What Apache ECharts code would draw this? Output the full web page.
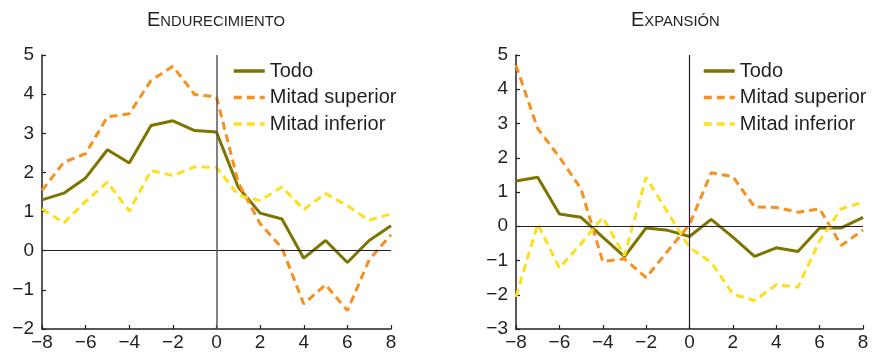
<!DOCTYPE html>
<html>
<head>
<meta charset="utf-8">
<script src="https://cdn.jsdelivr.net/npm/echarts@6/dist/echarts.min.js"></script>
<style>
  html, body { margin: 0; padding: 0; background: #fff; }
  #chart { width: 874px; height: 352px; }
</style>
</head>
<body>
<div id="chart"></div>
<script>
// Trimestres relativos al evento (eje horizontal)
const periods = [-8, -7, -6, -5, -4, -3, -2, -1, 0, 1, 2, 3, 4, 5, 6, 7, 8];
const seriesNames = ['Todo', 'Mitad superior', 'Mitad inferior'];

// Panel izquierdo: endurecimiento
const endTodo     = [1.30, 1.47, 1.86, 2.58, 2.24, 3.20, 3.32, 3.07, 3.03, 1.62, 0.96, 0.81, -0.19, 0.26, -0.30, 0.26, 0.64];
const endSuperior = [1.54, 2.26, 2.48, 3.42, 3.50, 4.35, 4.71, 3.99, 3.93, 1.74, 0.69, 0.07, -1.36, -0.87, -1.53, -0.23, 0.41];
const endInferior = [1.07, 0.71, 1.26, 1.75, 1.01, 2.05, 1.92, 2.14, 2.13, 1.42, 1.28, 1.63, 1.05, 1.46, 1.15, 0.78, 0.94];

// Panel derecho: expansión
const expTodo     = [1.32, 1.43, 0.36, 0.26, -0.32, -0.89, -0.05, -0.12, -0.30, 0.20, -0.32, -0.88, -0.63, -0.74, -0.05, -0.05, 0.26];
const expSuperior = [4.70, 2.85, 2.02, 1.09, -1.03, -0.95, -1.50, -0.72, 0.05, 1.56, 1.45, 0.56, 0.55, 0.41, 0.51, -0.56, -0.11];
const expInferior = [-2.06, 0.07, -1.22, -0.51, 0.26, -0.86, 1.43, 0.40, -0.62, -1.05, -1.98, -2.17, -1.71, -1.78, -0.42, 0.51, 0.70];

const FONT = '"Liberation Sans", Arial, Helvetica, sans-serif';
const INK = '#231f20';
const COLORS = { todo: '#7d7500', sup: '#f7901e', inf: '#fedf1f' };

const pairs = vals => periods.map((p, i) => [p, vals[i]]);
const minus = v => String(v).replace('-', '\u2212');

function xAxisFor(gridIndex) {
  return {
    type: 'value', gridIndex, min: -8, max: 8, interval: 2,
    axisLine: { onZero: false, lineStyle: { color: INK, width: 1.5 } },
    axisTick: { inside: true, length: 4, lineStyle: { color: INK, width: 1.2 } },
    axisLabel: { color: INK, fontSize: 19, fontFamily: FONT, margin: 4, formatter: minus },
    splitLine: { show: false }
  };
}
function yAxisFor(gridIndex, min) {
  return {
    type: 'value', gridIndex, min, max: 5, interval: 1,
    axisLine: { show: true, onZero: false, lineStyle: { color: INK, width: 1.5 } },
    axisTick: { show: true, inside: true, length: 4, lineStyle: { color: INK, width: 1.2 } },
    axisLabel: { color: INK, fontSize: 19, fontFamily: FONT, margin: 8, formatter: minus },
    splitLine: { show: false }
  };
}
function lineSeries(name, vals, idx, color, dashed) {
  return {
    name, type: 'line', xAxisIndex: idx, yAxisIndex: idx,
    data: pairs(vals), symbol: 'none', z: 3,
    color,
    lineStyle: { color, width: 3, type: dashed ? [8, 5] : 'solid' }
  };
}
function refLines(idx, vColor, vWidth) {
  return {
    name: 'ref' + idx, type: 'line', xAxisIndex: idx, yAxisIndex: idx,
    data: [], z: 1, silent: true,
    markLine: {
      silent: true, symbol: 'none', animation: false,
      label: { show: false },
      data: [
        { yAxis: 0, lineStyle: { color: INK, width: 1.2, type: 'solid' } },
        { xAxis: 0, lineStyle: { color: vColor, width: vWidth, type: 'solid' } }
      ]
    }
  };
}
function legendFor(left) {
  return {
    data: seriesNames, orient: 'vertical', left, top: 61, padding: 0,
    itemWidth: 31, itemHeight: 14, itemGap: 6.5,
    // only the line sample, no marker dot
    itemStyle: { opacity: 0 },
    lineStyle: { width: 3.5 },
    textStyle: { color: INK, fontSize: 20, fontFamily: FONT },
    selectedMode: false
  };
}
function titleFor(first, rest, left) {
  return {
    text: '{a|' + first + '}{b|' + rest + '}', left, top: 10, padding: 0,
    textStyle: {
      rich: {
        a: { fontSize: 20, fontWeight: 'normal', fontFamily: FONT, color: INK, verticalAlign: 'bottom' },
        b: { fontSize: 14.8, fontWeight: 'normal', fontFamily: FONT, color: INK, verticalAlign: 'bottom', padding: [0, 0, 1, 0] }
      }
    }
  };
}

const chart = echarts.init(document.getElementById('chart'), null, { renderer: 'canvas' });
chart.setOption({
  animation: false,
  backgroundColor: '#fff',
  title: [titleFor('E', 'NDURECIMIENTO', 147), titleFor('E', 'XPANSIÓN', 631)],
  legend: [legendFor(232), legendFor(702)],
  grid: [
    { left: 42, top: 55, width: 349, height: 274 },
    { left: 516, top: 55, width: 347, height: 274 }
  ],
  xAxis: [xAxisFor(0), xAxisFor(1)],
  yAxis: [yAxisFor(0, -2), yAxisFor(1, -3)],
  series: [
    refLines(0, '#5a5a5a', 1.5),
    lineSeries('Todo', endTodo, 0, COLORS.todo, false),
    lineSeries('Mitad superior', endSuperior, 0, COLORS.sup, true),
    lineSeries('Mitad inferior', endInferior, 0, COLORS.inf, true),
    refLines(1, INK, 1.2),
    lineSeries('Todo', expTodo, 1, COLORS.todo, false),
    lineSeries('Mitad superior', expSuperior, 1, COLORS.sup, true),
    lineSeries('Mitad inferior', expInferior, 1, COLORS.inf, true)
  ]
});
</script>
</body>
</html>
